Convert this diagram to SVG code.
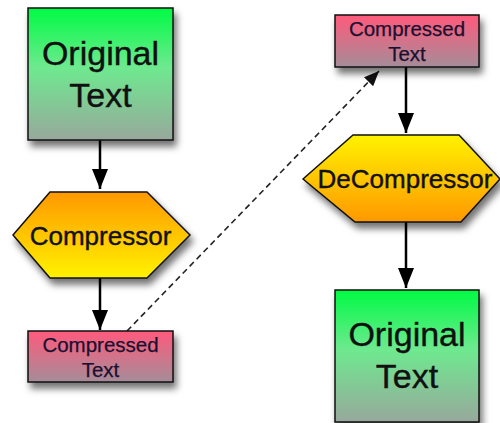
<svg xmlns="http://www.w3.org/2000/svg" width="500" height="423" viewBox="0 0 500 423">
  <defs>
    <linearGradient id="gGreen" x1="0" y1="0" x2="0" y2="1">
      <stop offset="0" stop-color="#00fb44"/>
      <stop offset="0.45" stop-color="#6ee98f"/>
      <stop offset="1" stop-color="#98a89c"/>
    </linearGradient>
    <linearGradient id="gPink" x1="0" y1="0" x2="0" y2="1">
      <stop offset="0" stop-color="#ff5a7c"/>
      <stop offset="1" stop-color="#a58c98"/>
    </linearGradient>
    <linearGradient id="gOrangeDown" x1="0" y1="0" x2="0" y2="1">
      <stop offset="0" stop-color="#ff9800"/>
      <stop offset="1" stop-color="#fff200"/>
    </linearGradient>
    <linearGradient id="gOrangeUp" x1="0" y1="0" x2="0" y2="1">
      <stop offset="0" stop-color="#fff200"/>
      <stop offset="1" stop-color="#ff9800"/>
    </linearGradient>
    <filter id="shadow" x="-20%" y="-20%" width="150%" height="160%">
      <feDropShadow dx="3" dy="6" stdDeviation="3.5" flood-color="#000" flood-opacity="0.55"/>
    </filter>
    <marker id="head" viewBox="0 0 20 16" refX="20" refY="8" markerWidth="20" markerHeight="18" markerUnits="userSpaceOnUse" orient="auto">
      <path d="M0,0 L20,8 L0,16 Z" fill="#000"/>
    </marker>
    <marker id="headSmall" viewBox="0 0 14 12" refX="14" refY="6" markerWidth="15" markerHeight="13" markerUnits="userSpaceOnUse" orient="auto">
      <path d="M0,0 L14,6 L0,12 Z" fill="#111"/>
    </marker>
  </defs>
  <style>
    .shape { stroke: #111; stroke-width: 1.5; filter: url(#shadow); }
    text { font-family: "Liberation Sans", Arial, sans-serif; text-anchor: middle; stroke-width: 0.4; }
    .big { font-size: 34px; fill: #111; stroke: #111; }
    .mid { font-size: 26px; fill: #111; stroke: #111; }
    .small { font-size: 20.5px; fill: #1a1030; stroke: #1a1030; stroke-width: 0.25; }
    .flow { stroke: #000; stroke-width: 2.5; fill: none; marker-end: url(#head); }
    .link { stroke: #222; stroke-width: 1.6; fill: none; stroke-dasharray: 6 4; marker-end: url(#headSmall); }
  </style>

  <g id="connectors">
    <line class="flow" x1="100" y1="140" x2="100" y2="189"/>
    <line class="flow" x1="100" y1="278" x2="100" y2="330"/>
    <line class="link" x1="127" y1="331" x2="379" y2="71"/>
    <line class="flow" x1="406" y1="67" x2="406" y2="133"/>
    <line class="flow" x1="406" y1="222" x2="406" y2="288"/>
  </g>

  <g id="original-text-left">
    <rect class="shape" x="28" y="8" width="145" height="132" fill="url(#gGreen)"/>
    <text class="big" x="100.5" y="65">Original</text>
    <text class="big" x="100.5" y="107">Text</text>
  </g>

  <g id="compressor">
    <polygon class="shape" points="13,235 50,192 147,192 190,235 147,278 50,278" fill="url(#gOrangeDown)"/>
    <text class="mid" x="100.5" y="245">Compressor</text>
  </g>

  <g id="compressed-text-left">
    <rect class="shape" x="28" y="331" width="145" height="51" fill="url(#gPink)"/>
    <text class="small" x="100.5" y="352">Compressed</text>
    <text class="small" x="100.5" y="377">Text</text>
  </g>

  <g id="compressed-text-right">
    <rect class="shape" x="335" y="15" width="144" height="52" fill="url(#gPink)"/>
    <text class="small" x="407" y="36">Compressed</text>
    <text class="small" x="407" y="61">Text</text>
  </g>

  <g id="decompressor">
    <polygon class="shape" points="303,179 353,135 459,135 500,179 461,222 355,222" fill="url(#gOrangeUp)"/>
    <text class="mid" x="405" y="188">DeCompressor</text>
  </g>

  <g id="original-text-right">
    <rect class="shape" x="335" y="290" width="144" height="132" fill="url(#gGreen)"/>
    <text class="big" x="407" y="346">Original</text>
    <text class="big" x="407" y="388">Text</text>
  </g>
</svg>
